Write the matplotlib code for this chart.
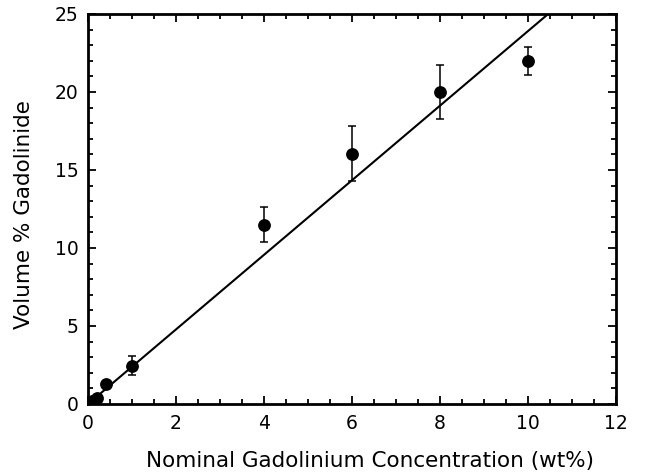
import numpy as np
import matplotlib
matplotlib.use("Agg")
import matplotlib.pyplot as plt
from matplotlib.ticker import MultipleLocator

plt.rcParams['font.family'] = ['DejaVu Sans']

# measured points
conc = [0.1, 0.2, 0.4, 1.0, 4.0, 6.0, 8.0, 10.0]
vol = [0.2, 0.4, 1.3, 2.45, 11.5, 16.05, 20.0, 22.0]
err = [0.0, 0.0, 0.0, 0.6, 1.1, 1.75, 1.7, 0.9]

# fitted line
fit_x = [0.0, 12.0]
slope = 2.39

fig = plt.figure(figsize=(6.49, 4.74), dpi=100)
ax = fig.add_axes([0.1356, 0.1477, 0.8134, 0.8228])

ax.plot(fit_x, [slope * x for x in fit_x], color='black', lw=1.5)
ax.errorbar(conc, vol, yerr=err, fmt='o', color='black', ms=8.2,
            capsize=3.2, elinewidth=1.1, capthick=1.1)

ax.set_xlim(0, 12)
ax.set_ylim(0, 25)
ax.xaxis.set_major_locator(MultipleLocator(2))
ax.xaxis.set_minor_locator(MultipleLocator(0.5))
ax.yaxis.set_major_locator(MultipleLocator(5))
ax.yaxis.set_minor_locator(MultipleLocator(1))
ax.tick_params(which='both', direction='in', top=True, right=True, width=1.3)
ax.tick_params(which='major', length=6, labelsize=13.5, pad=7)
ax.tick_params(which='minor', length=3.5)
for s in ax.spines.values():
    s.set_linewidth(2)

ax.set_xlabel('Nominal Gadolinium Concentration (wt%)', fontsize=15.5, labelpad=13)
ax.xaxis.label.set_x(0.534)
ax.set_ylabel('Volume % Gadolinide', fontsize=15.5, labelpad=15)
ax.yaxis.label.set_y(0.485)

fig.savefig('out.png', dpi=100)
